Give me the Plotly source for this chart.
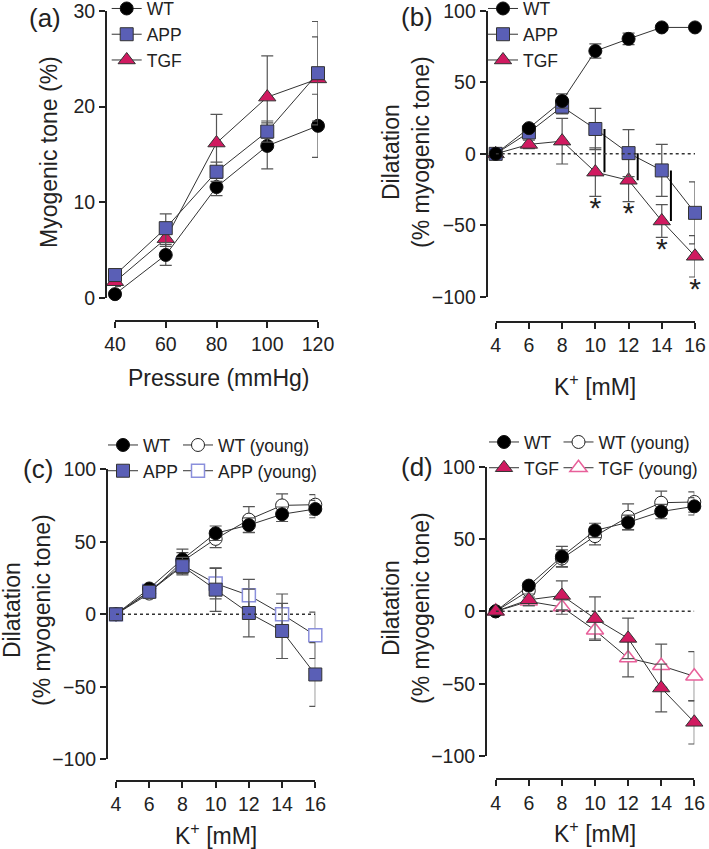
import plotly.graph_objects as go

W, H = 709, 849
FONT = "Liberation Sans, Arial, sans-serif"
INK = "#222222"

# (a) myogenic tone vs pressure
pressure = [40, 60, 80, 100, 120]
tone_wt = [0.4, 4.5, 11.6, 15.9, 18.0]
tone_wt_err = [0.3, 1.1, 0.9, 2.4, 3.3]
tone_app = [2.4, 7.3, 13.2, 17.4, 23.5]
tone_app_err = [0.4, 1.5, 1.0, 1.1, 5.4]
tone_tgf = [1.7, 6.2, 16.2, 21.0, 22.9]
tone_tgf_err = [0.5, 0.8, 3.0, 4.3, 4.4]

# K+ concentrations (b-d)
k_mm = [4, 6, 8, 10, 12, 14, 16]

# (b)
b_wt = [0, 18, 37, 72, 80.5, 88.5, 88.5]
b_wt_err = [0, 2, 5, 5, 4, 1.5, 1.5]
b_app = [0, 15, 33, 17.4, 0.5, -11.6, -41.3]
b_app_err = [0, 3, 5, 14.5, 16.5, 18.2, 21.7]
b_tgf = [0, 6.6, 8.9, -12.8, -18.5, -47, -71.7]
b_tgf_err = [0, 3, 16, 17, 15, 11.5, 14.5]
sig_k = [10, 12, 14, 16]

# (c) / (d) shared WT groups
wt_old = [0, 17.8, 37.9, 55.9, 61.5, 69, 72.6]
wt_old_err = [0, 2, 7, 5, 5, 5, 6]
wt_young = [0, 14.3, 36.5, 52, 65.3, 75.1, 75.6]
wt_young_err = [0, 2, 6, 6, 9, 8, 7]

# (c)
c_app = [0, 15.5, 33.2, 17, 0.9, -11.5, -41.5]
c_app_err = [0, 3, 6, 15, 16.5, 19, 22]
c_app_young = [0, 16, 34, 21.2, 13.1, 0, -14.5]
c_app_young_err = [0, 2, 6, 10.5, 11, 14, 16]

# (d)
d_tgf = [0, 8, 11, -5, -18.7, -53, -76.7]
d_tgf_err = [0, 4, 10, 15, 14, 16.5, 15]
d_tgf_young = [0, 6.9, 3, -13.1, -32.3, -37.6, -44.9]
d_tgf_young_err = [0, 3, 5, 6, 13, 15, 17]

APP_BLUE = "#5a5fb6"
TGF_RED = "#d01a60"
APP_LIGHT = "#8a8fdc"
TGF_LIGHT = "#e8609a"


def px_x(p):
    return p / W


def px_y(p):
    return 1 - p / H


def series(x, y, err, name, ax, symbol, fill, edge, size, legend, rank, ew=1):
    return go.Scatter(
        x=x, y=y, name=name, mode="lines+markers",
        xaxis="x" + ax, yaxis="y" + ax, legend=legend, legendrank=rank,
        line=dict(color="#333333", width=1),
        marker=dict(symbol=symbol, size=size, color=fill,
                    line=dict(color=edge, width=ew)),
        error_y=dict(type="data", array=err, color="#555555",
                     thickness=1.2, width=6),
        cliponaxis=False,
    )


fig = go.Figure()

# (a)
fig.add_trace(series(pressure, tone_wt, tone_wt_err, "WT", "", "circle", "black", "#111", 13, "legend", 1))
fig.add_trace(series(pressure, tone_tgf, tone_tgf_err, "TGF", "", "triangle-up", TGF_RED, "#333", 15, "legend", 3))
fig.add_trace(series(pressure, tone_app, tone_app_err, "APP", "", "square", APP_BLUE, "#333", 13, "legend", 2))

# (b)
fig.add_trace(series(k_mm, b_tgf, b_tgf_err, "TGF", "2", "triangle-up", TGF_RED, "#333", 15, "legend2", 3))
fig.add_trace(series(k_mm, b_app, b_app_err, "APP", "2", "square", APP_BLUE, "#333", 13, "legend2", 2))
fig.add_trace(series(k_mm, b_wt, b_wt_err, "WT", "2", "circle", "black", "#111", 13, "legend2", 1))

# significance bars + asterisks
for kk in sig_k:
    i = k_mm.index(kk)
    fig.add_trace(go.Scatter(
        x=[kk + 0.55, kk + 0.55], y=[b_app[i], b_tgf[i]], mode="lines",
        xaxis="x2", yaxis="y2", showlegend=False, cliponaxis=False,
        line=dict(color="black", width=2)))
fig.add_trace(go.Scatter(
    x=sig_k, y=[b_tgf[k_mm.index(kk)] - b_tgf_err[k_mm.index(kk)] - 10 for kk in sig_k],
    mode="text", text=["*"] * len(sig_k), xaxis="x2", yaxis="y2",
    showlegend=False, cliponaxis=False,
    textfont=dict(family=FONT, size=30, color=INK)))

# (c)
fig.add_trace(series(k_mm, wt_young, wt_young_err, "WT (young)", "3", "circle", "white", "#222", 13, "legend4", 1))
fig.add_trace(series(k_mm, c_app_young, c_app_young_err, "APP (young)", "3", "square", "white", APP_LIGHT, 13, "legend4", 2, 1.5))
fig.add_trace(series(k_mm, wt_old, wt_old_err, "WT", "3", "circle", "black", "#111", 13, "legend3", 1))
fig.add_trace(series(k_mm, c_app, c_app_err, "APP", "3", "square", APP_BLUE, "#333", 13, "legend3", 2))

# (d)
fig.add_trace(series(k_mm, wt_young, wt_young_err, "WT (young)", "4", "circle", "white", "#222", 13, "legend6", 1))
fig.add_trace(series(k_mm, d_tgf_young, d_tgf_young_err, "TGF (young)", "4", "triangle-up", "white", TGF_LIGHT, 15, "legend6", 2, 1.5))
fig.add_trace(series(k_mm, wt_old, wt_old_err, "WT", "4", "circle", "black", "#111", 13, "legend5", 1))
fig.add_trace(series(k_mm, d_tgf, d_tgf_err, "TGF", "4", "triangle-up", TGF_RED, "#333", 15, "legend5", 2))

axis_common = dict(showgrid=False, zeroline=False, showline=True, linewidth=2,
                   linecolor=INK, ticks="outside", ticklen=6, tickwidth=2,
                   tickcolor=INK, tickfont=dict(family=FONT, size=19.5, color=INK),
                   ticklabeloverflow="allow", anchor="free")

# panel geometry in pixels: x domain, y domain (top, bottom), y-axis x, x-axis y
panels = {
    "": dict(xd=(115, 318), yd=(11, 298), yline=106, xline=321,
             xr=[40, 120], yr=[0, 30], xt=pressure, yt=[0, 10, 20, 30]),
    "2": dict(xd=(495.7, 695), yd=(11, 296.7), yline=486.7, xline=322,
              xr=[4, 16], yr=[-100, 100], xt=k_mm, yt=[-100, -50, 0, 50, 100]),
    "3": dict(xd=(116, 315.3), yd=(469.3, 759.3), yline=107, xline=781,
              xr=[4, 16], yr=[-100, 100], xt=k_mm, yt=[-100, -50, 0, 50, 100]),
    "4": dict(xd=(495.7, 694.3), yd=(466.7, 756), yline=486, xline=779.3,
              xr=[4, 16], yr=[-100, 100], xt=k_mm, yt=[-100, -50, 0, 50, 100]),
}

layout_axes = {}
for ax, p in panels.items():
    layout_axes["xaxis" + ax] = dict(
        axis_common, domain=[px_x(p["xd"][0]), px_x(p["xd"][1])],
        range=p["xr"], tickvals=p["xt"], position=px_y(p["xline"]))
    layout_axes["yaxis" + ax] = dict(
        axis_common, domain=[px_y(p["yd"][1]), px_y(p["yd"][0])],
        range=p["yr"], tickvals=p["yt"], position=px_x(p["yline"]))

fig.update_layout(**layout_axes)

# dotted zero lines
for ax in ["2", "3", "4"]:
    fig.add_shape(type="line", xref="x" + ax, yref="y" + ax,
                  x0=k_mm[0], x1=k_mm[-1], y0=0, y1=0,
                  line=dict(color="#333333", width=1.5, dash="dot"))

legend_style = dict(xanchor="left", yanchor="top", bgcolor="rgba(0,0,0,0)",
                    font=dict(family=FONT, size=17.5, color=INK),
                    tracegroupgap=0, itemwidth=30)


def legend_at(mx, my):
    return dict(legend_style, x=px_x(mx - 20), y=px_y(my - 17.9))


fig.update_layout(
    legend=legend_at(126.7, 8.5),
    legend2=legend_at(503, 8.5),
    legend3=legend_at(123, 445),
    legend4=legend_at(198, 445),
    legend5=legend_at(504, 442),
    legend6=legend_at(578.5, 442),
)

annotations = []


def label(text, x, y, size, angle=0):
    annotations.append(dict(text=text, x=px_x(x), y=px_y(y), xref="paper",
                            yref="paper", showarrow=False, textangle=angle,
                            xanchor="center", yanchor="middle",
                            font=dict(family=FONT, size=size, color=INK)))


label("(a)", 45, 18, 26)
label("(b)", 417, 17, 26)
label("(c)", 38, 469, 26)
label("(d)", 417, 467, 26)
label("Myogenic tone (%)", 49, 152, 23, -90)
label("Dilatation<br>(% myogenic tone)", 406, 152, 23, -90)
label("Dilatation<br>(% myogenic tone)", 27, 610, 23, -90)
label("Dilatation<br>(% myogenic tone)", 406, 608, 23, -90)
label("Pressure (mmHg)", 218, 378, 23)
label("K<sup>+</sup> [mM]", 595, 385, 23)
label("K<sup>+</sup> [mM]", 216, 834, 23)
label("K<sup>+</sup> [mM]", 595, 832, 23)

fig.update_layout(
    width=W, height=H, template="none",
    margin=dict(l=0, r=0, t=0, b=0, autoexpand=False),
    paper_bgcolor="white", plot_bgcolor="white",
    annotations=annotations,
)

fig.write_html("out.html", config={"displayModeBar": False},
               post_script="document.body.style.margin='0';")
